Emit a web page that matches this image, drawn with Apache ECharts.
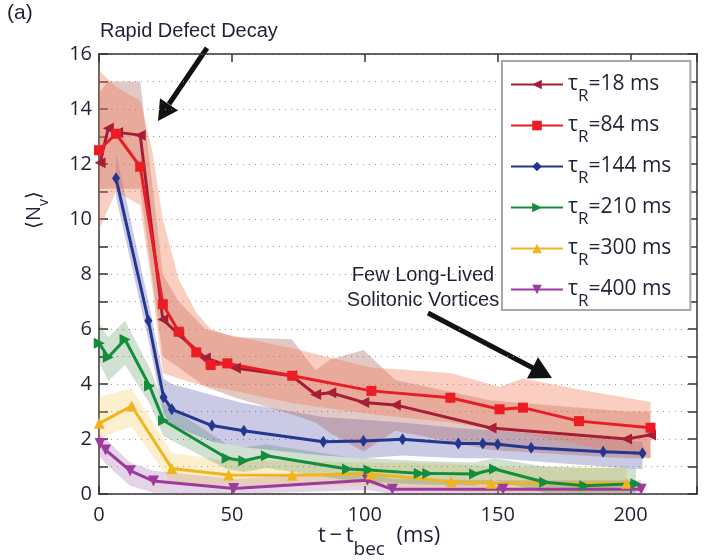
<!DOCTYPE html>
<html><head><meta charset="utf-8">
<script src="https://cdn.jsdelivr.net/npm/echarts@6/dist/echarts.min.js"></script>
<style>html,body{margin:0;padding:0;background:#fff}#c{width:710px;height:560px}</style>
</head><body><div id="c"></div>
<script>
// ---- data ----
const tauValues = [18, 84, 144, 210, 300, 400];
const xTicks = [0, 50, 100, 150, 200];
const yTicks = [0, 2, 4, 6, 8, 10, 12, 14, 16];

const x18 = [0.4, 3.5, 7, 15.5, 24, 30, 40, 51.3, 72.5, 81.5, 87.2, 99.6, 111.5, 147.5, 198.5, 207.5];
const y18 = [12.05, 13.3, 13.15, 13.05, 6.35, 5.8, 4.95, 4.58, 4.3, 3.62, 3.68, 3.33, 3.24, 2.4, 2.0, 2.15];
const x84 = [0, 6.4, 15.5, 24, 30, 36.6, 42, 48.3, 72.7, 102.5, 132.2, 150.7, 159.5, 180.6, 207.5];
const y84 = [12.5, 13.1, 11.9, 6.9, 5.9, 5.15, 4.69, 4.75, 4.3, 3.75, 3.5, 3.08, 3.14, 2.65, 2.41];
const x144 = [6.4, 18.6, 24.3, 27.4, 42.5, 54.5, 84.4, 99.5, 114.2, 135.2, 144.4, 150, 162.6, 189.7, 204.5];
const y144 = [11.48, 6.3, 3.52, 3.08, 2.49, 2.3, 1.9, 1.93, 1.99, 1.84, 1.84, 1.81, 1.68, 1.54, 1.48];
const x210 = [0.1, 3.5, 9.8, 19, 24.3, 48.2, 54.5, 63, 93.5, 101.6, 120.5, 123.7, 141.3, 148.8, 167.7, 182.8, 202];
const y210 = [5.48, 4.97, 5.62, 3.93, 2.67, 1.3, 1.21, 1.39, 0.91, 0.87, 0.75, 0.75, 0.73, 0.91, 0.43, 0.3, 0.37];
const x300 = [0.1, 12.3, 27.4, 48.8, 72.7, 102.3, 132.5, 147.5, 198.5];
const y300 = [2.57, 3.2, 0.93, 0.69, 0.68, 0.73, 0.45, 0.39, 0.39];
const x400 = [0.4, 2.5, 11.7, 20.5, 50.7, 101, 110.4, 152, 204];
const y400 = [1.84, 1.6, 0.85, 0.47, 0.2, 0.5, 0.17, 0.17, 0.17];

// uncertainty bands (x, lower, upper)
const b18x  = [0, 3.5, 7, 15.5, 24, 30, 40, 51.3, 72.5, 81.5, 87.2, 99.6, 111.5, 147.5, 198.5, 207.5];
const b18lo = [11.1, 11.1, 11.1, 11.1, 5.0, 4.6, 3.9, 3.5, 2.9, 2.6, 2.2, 1.55, 2.3, 1.6, 1.3, 1.3];
const b18hi = [14.6, 15.0, 15.0, 15.0, 8.0, 7.0, 6.0, 5.7, 5.63, 4.5, 4.9, 5.24, 4.15, 3.4, 3.0, 3.0];
const b84x  = [0, 6.4, 15.5, 20, 24, 30, 36.6, 42, 48.3, 72.7, 102.5, 132.2, 150.7, 159.5, 180.6, 207.5];
const b84lo = [9.6, 11.0, 10.5, 7.5, 4.4, 4.2, 4.0, 3.9, 3.8, 3.3, 2.9, 2.6, 2.3, 2.2, 1.8, 1.3];
const b84hi = [15.4, 14.8, 14.3, 12.5, 10.0, 7.8, 6.6, 6.0, 5.8, 5.3, 4.6, 4.4, 3.9, 4.2, 3.8, 3.35];
const b144x  = [6.4, 18.6, 24.3, 27.4, 42.5, 54.5, 84.4, 99.5, 114.2, 135.2, 150, 162.6, 189.7, 204.5];
const b144lo = [10.8, 5.6, 2.9, 2.5, 1.9, 1.7, 1.4, 1.3, 1.4, 1.3, 1.3, 1.2, 1.0, 0.9];
const b144hi = [12.4, 7.0, 4.2, 4.0, 3.6, 3.3, 2.8, 2.7, 2.6, 2.4, 2.3, 2.2, 2.0, 1.9];
const b210x  = [0, 3.5, 9.8, 19, 24.3, 48.2, 54.5, 63, 93.5, 101.6, 120.5, 141.3, 148.8, 167.7, 182.8, 202];
const b210lo = [4.8, 4.1, 4.7, 3.3, 2.1, 0.9, 0.8, 0.95, 0.5, 0.45, 0.35, 0.3, 0.5, 0.05, 0.0, 0.0];
const b210hi = [6.2, 5.7, 6.3, 4.6, 3.3, 1.8, 1.7, 1.8, 1.35, 1.3, 1.2, 1.15, 1.3, 1.0, 0.95, 0.95];
const b300x  = [0, 12.3, 27.4, 48.8, 72.7, 102.3, 132.5, 147.5, 198.5];
const b300lo = [2.05, 2.45, 0.4, 0.3, 0.3, 0.3, 0.1, 0.05, 0.05];
const b300hi = [3.55, 3.85, 1.5, 1.2, 1.2, 1.15, 1.1, 1.0, 1.0];
const b400x  = [0, 2.5, 11.7, 20.5, 50.7, 101, 110.4, 152, 204];
const b400lo = [1.4, 1.1, 0.3, 0.05, 0, 0.15, 0, 0, 0];
const b400hi = [2.2, 2.0, 1.15, 0.85, 0.55, 0.85, 0.55, 0.5, 0.5];

// ---- styles ----
const lineColors = ['#a51d36', '#ec1c24', '#24378f', '#138d3a', '#f0b41c', '#9c3b9c'];
const bandColors = ['rgba(170,90,80,0.33)', 'rgba(240,120,80,0.36)', 'rgba(60,60,160,0.27)',
                    'rgba(40,120,50,0.22)', 'rgba(240,190,60,0.25)', 'rgba(150,80,160,0.25)'];
const symbols = ['triangle', 'rect', 'diamond', 'triangle', 'triangle', 'triangle'];
const rotations = [90, 0, 0, -90, 0, 180];
const sizes = [11, 10, [8, 12], 11, 11, 11];

const lineX = [x18, x84, x144, x210, x300, x400];
const lineY = [y18, y84, y144, y210, y300, y400];
const bandX = [b18x, b84x, b144x, b210x, b300x, b400x];
const bandLo = [b18lo, b84lo, b144lo, b210lo, b300lo, b400lo];
const bandHi = [b18hi, b84hi, b144hi, b210hi, b300hi, b400hi];

const names = tauValues.map(t => 'τR=' + t + ' ms');
const FONT = 'Open Sans';
const AFONT = 'Liberation Sans';
const TXT = '#1f2233';

const series = [];
const bandOrder = [5, 4, 3, 2, 0, 1];
bandOrder.forEach(k => {
  series.push({
    type: 'custom', silent: true, z: 1, clip: true,
    data: [[bandX[k][0], bandLo[k][0]]],
    encode: { x: 0, y: 1 },
    renderItem: (params, api) => {
      const pts = [];
      for (let i = 0; i < bandX[k].length; i++) pts.push(api.coord([bandX[k][i], bandHi[k][i]]));
      for (let i = bandX[k].length - 1; i >= 0; i--) pts.push(api.coord([bandX[k][i], bandLo[k][i]]));
      return { type: 'polygon', shape: { points: pts }, style: { fill: bandColors[k] } };
    }
  });
});
const lineOrder = [5, 4, 3, 2, 0, 1];
lineOrder.forEach(k => {
  series.push({
    name: names[k], type: 'line', z: 3,
    data: lineX[k].map((x, i) => [x, lineY[k][i]]),
    symbol: symbols[k], symbolSize: sizes[k], symbolRotate: rotations[k],
    showSymbol: true,
    lineStyle: { color: lineColors[k], width: 3 },
    itemStyle: { color: lineColors[k] }
  });
});

const axisLineStyle = { color: '#333', width: 1.5 };
const option = {
  animation: false,
  backgroundColor: '#fff',
  grid: { left: 99, right: 13, top: 54, bottom: 66 },
  xAxis: [
    { type: 'value', min: 0, max: 225, interval: 50, position: 'bottom',
      axisLine: { show: true, onZero: false, lineStyle: axisLineStyle },
      axisTick: { show: true, inside: true, length: 8, lineStyle: axisLineStyle },
      axisLabel: { fontSize: 20, fontFamily: FONT, color: TXT, margin: 11,
        formatter: v => xTicks.includes(v) ? String(v) : '' },
      splitLine: { show: false } },
    { type: 'value', min: 0, max: 225, interval: 50, position: 'top',
      axisLine: { show: true, onZero: false, lineStyle: axisLineStyle },
      axisTick: { show: true, inside: true, length: 8, lineStyle: axisLineStyle },
      axisLabel: { show: false }, splitLine: { show: false } }
  ],
  yAxis: [
    { type: 'value', min: 0, max: 16, interval: 1, position: 'left',
      axisLine: { show: true, onZero: false, lineStyle: axisLineStyle },
      axisTick: { show: true, inside: true, length: 9, lineStyle: axisLineStyle },
      axisLabel: { fontSize: 20, fontFamily: FONT, color: TXT, margin: 7,
        formatter: v => yTicks.includes(v) ? String(v) : '' },
      splitLine: { show: true, lineStyle: { type: [1, 5], color: '#999', width: 1 } } },
    { type: 'value', min: 0, max: 16, interval: 1, position: 'right',
      axisLine: { show: true, onZero: false, lineStyle: axisLineStyle },
      axisTick: { show: true, inside: true, length: 9, lineStyle: axisLineStyle },
      axisLabel: { show: false }, splitLine: { show: false } }
  ],
  legend: {
    data: names, orient: 'vertical', left: 502, top: 61,
    itemWidth: 52, itemHeight: 12, itemGap: 0,
    padding: [3, 19, 0, 8],
    backgroundColor: '#fff', borderColor: '#a8a8a8', borderWidth: 2,
    selectedMode: false,
    formatter: name => {
      const t = name.match(/\d+/)[0];
      return '{a|τ}{b|R}{a|=' + t + ' ms}';
    },
    textStyle: {
      color: TXT,
      rich: {
        a: { fontSize: 21, fontFamily: FONT, color: TXT, lineHeight: 21 },
        b: { fontSize: 17, fontFamily: FONT, color: TXT, lineHeight: 17, padding: [24, 0, 0, 0] }
      }
    }
  },
  graphic: [
    { type: 'text', left: 7, top: 3, style: { text: '(a)', font: '21px "' + AFONT + '"', fill: TXT } },
    { type: 'text', left: 100, top: 21, style: { text: 'Rapid Defect Decay', font: '20px "' + AFONT + '"', fill: TXT } },
    { type: 'text', x: 423, y: 275, style: { text: 'Few Long-Lived', font: '20px "' + AFONT + '"', fill: TXT, align: 'center', verticalAlign: 'middle' } },
    { type: 'text', x: 423, y: 300, style: { text: 'Solitonic Vortices', font: '20px "' + AFONT + '"', fill: TXT, align: 'center', verticalAlign: 'middle' } },
    { type: 'line', shape: { x1: 207, y1: 48, x2: 169, y2: 104 }, style: { stroke: '#111', lineWidth: 5 } },
    { type: 'polygon', shape: { points: [[158, 121], [178, 110.5], [160, 98.3]] }, style: { fill: '#111' } },
    { type: 'line', shape: { x1: 428, y1: 313, x2: 533, y2: 368 }, style: { stroke: '#111', lineWidth: 5 } },
    { type: 'polygon', shape: { points: [[552, 378], [527, 378.4], [538, 357.2]] }, style: { fill: '#111' } },
    { type: 'text', x: 318, y: 525, style: {
        text: '{a|t\u2009\u2212\u2009t}{b|bec}{a|  (ms)}',
        rich: {
          a: { fontSize: 22, fontFamily: FONT, fill: TXT, lineHeight: 24, verticalAlign: 'top' },
          b: { fontSize: 19, fontFamily: FONT, fill: TXT, lineHeight: 19, padding: [15, 0, 0, 0], verticalAlign: 'top' }
        } } },
    { type: 'text', x: 24, y: 229, rotation: Math.PI / 2, style: {
        text: '{a|\u27E8N}{b|v}{a|\u27E9}',
        rich: {
          a: { fontSize: 20, fontFamily: FONT, fill: TXT, lineHeight: 22, verticalAlign: 'top' },
          b: { fontSize: 14, fontFamily: FONT, fill: TXT, lineHeight: 14, padding: [13, 0, 0, 0], verticalAlign: 'top' }
        } } }
  ],
  series: series
};
const chart = echarts.init(document.getElementById('c'), null, { renderer: 'canvas' });
chart.setOption(option);
</script></body></html>
